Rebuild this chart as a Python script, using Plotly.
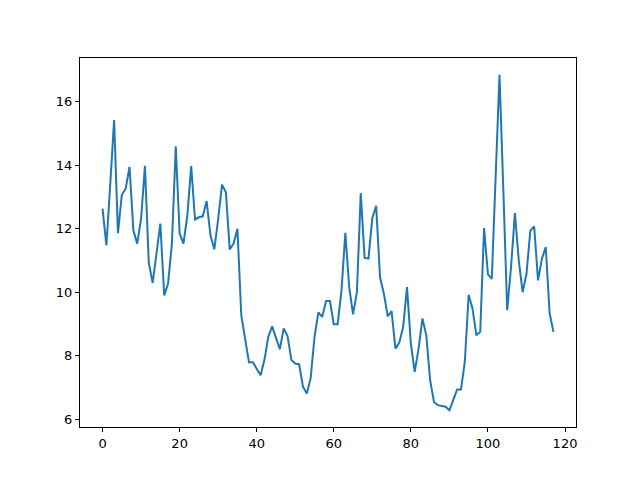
import plotly.graph_objects as go

# series values (index 0..117)
values = [
    12.63, 11.47, 13.4, 15.42, 11.86, 13.07, 13.26, 13.95, 11.94, 11.53,
    12.32, 13.98, 10.92, 10.29, 11.22, 12.16, 9.9, 10.27, 11.53, 14.6,
    11.85, 11.53, 12.41, 13.97, 12.29, 12.36, 12.39, 12.87, 11.79, 11.35,
    12.3, 13.39, 13.15, 11.35, 11.53, 12.0, 9.27, 8.59, 7.79, 7.79,
    7.58, 7.38, 7.86, 8.59, 8.92, 8.54, 8.2, 8.86, 8.62, 7.86,
    7.75, 7.73, 7.02, 6.81, 7.29, 8.59, 9.36, 9.22, 9.72, 9.72,
    8.99, 8.99, 10.05, 11.87, 10.16, 9.3, 10.0, 13.12, 11.08, 11.06,
    12.34, 12.72, 10.47, 9.95, 9.24, 9.4, 8.22, 8.41, 8.9, 10.16,
    8.38, 7.49, 8.22, 9.17, 8.64, 7.23, 6.54, 6.44, 6.42, 6.39,
    6.28, 6.6, 6.93, 6.93, 7.8, 9.92, 9.48, 8.64, 8.75, 12.02,
    10.56, 10.42, 13.6, 16.85, 13.2, 9.43, 10.8, 12.49, 11.0, 10.0,
    10.58, 11.94, 12.07, 10.37, 11.05, 11.42, 9.34, 8.75,
]
index = list(range(len(values)))

x_ticks = [0, 20, 40, 60, 80, 100, 120]
y_ticks = [6, 8, 10, 12, 14, 16]

fig = go.Figure()
fig.add_trace(go.Scatter(x=index, y=values, mode="lines",
                         line=dict(color="#1f77b4", width=2), showlegend=False))

# matplotlib-like 5% margins
xpad = (index[-1] - index[0]) * 0.05
ypad = (max(values) - min(values)) * 0.05

axis_style = dict(showgrid=False, zeroline=False, showline=True, linecolor="black",
                  linewidth=1, mirror=True, ticks="outside", ticklen=4, tickwidth=1,
                  tickcolor="black", tickfont=dict(family="DejaVu Sans", size=13, color="black"))

fig.update_xaxes(range=[index[0] - xpad, index[-1] + xpad], tickvals=x_ticks, **axis_style)
fig.update_yaxes(range=[min(values) - ypad, max(values) + ypad], tickvals=y_ticks, **axis_style)

# page body adds an 8px offset, so the figure is 8px smaller
fig.update_layout(width=632, height=472, plot_bgcolor="white", paper_bgcolor="white",
                  margin=dict(l=72, r=64, t=50, b=53))

fig.write_html("out.html")
